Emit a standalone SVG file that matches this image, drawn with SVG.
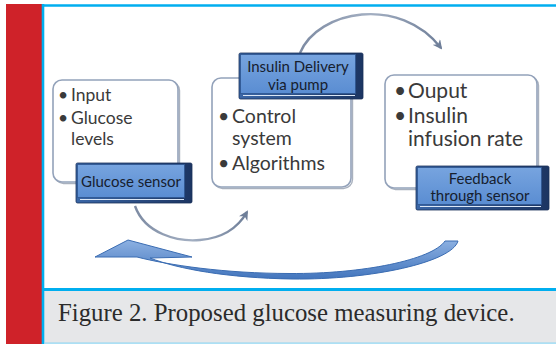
<svg xmlns="http://www.w3.org/2000/svg" width="556" height="344" viewBox="0 0 556 344">
  <defs>
    <linearGradient id="arcGrad" x1="0" y1="0" x2="1" y2="0">
      <stop offset="0" stop-color="#7d8ba3"/>
      <stop offset="0.5" stop-color="#a3afc2"/>
      <stop offset="1" stop-color="#6f7f99"/>
    </linearGradient>
    <linearGradient id="bigArrowGrad" x1="0" y1="0" x2="0" y2="1">
      <stop offset="0" stop-color="#8db1e2"/>
      <stop offset="1" stop-color="#4275bd"/>
    </linearGradient>
    <linearGradient id="faceGrad" x1="0" y1="0" x2="0" y2="1">
      <stop offset="0" stop-color="#77a4df"/>
      <stop offset="1" stop-color="#5a8dd2"/>
    </linearGradient>
    <linearGradient id="edgeGrad" x1="0" y1="0" x2="1" y2="0">
      <stop offset="0" stop-color="#3a66a6"/>
      <stop offset="1" stop-color="#1c3562"/>
    </linearGradient>
    <marker id="arcHead" viewBox="0 0 10 10" refX="8" refY="5" markerWidth="4" markerHeight="4" orient="auto" markerUnits="strokeWidth">
      <path d="M0,0 L10,5 L0,10 L3,5 Z" fill="#6f7f99"/>
    </marker>
  </defs>
  <style>
    .card { fill: #ffffff; stroke: #93a2ba; stroke-width: 1.6; }
    .cardShadow { fill: none; stroke: #6f7d93; stroke-width: 1.4; opacity: 0.6; }
    .bullet { font-family: Lato, "Liberation Sans", sans-serif; fill: #3a3a3a; }
    .tag { font-family: Lato, "Liberation Sans", sans-serif; font-size: 15px; fill: #16202e; text-anchor: middle; }
    .edge { fill: url(#edgeGrad); stroke: #1a3059; stroke-width: 0.8; }
    .face { fill: url(#faceGrad); stroke: #2d5590; stroke-width: 0.8; }
    .glint { stroke: #dbe7f6; stroke-width: 1.2; }
    .arc { fill: none; stroke: url(#arcGrad); stroke-width: 2.4; marker-end: url(#arcHead); }
  </style>

  <!-- page frame -->
  <rect x="0" y="0" width="556" height="344" fill="#ffffff"/>
  <rect x="6" y="4" width="36" height="340" fill="#cf2229"/>
  <rect x="44" y="291" width="512" height="52" fill="#e6e7e9"/>
  <line x1="42" y1="5.5" x2="556" y2="5.5" stroke="#00aeef" stroke-width="2.6"/>
  <line x1="43" y1="4" x2="43" y2="344" stroke="#00aeef" stroke-width="2.6"/>
  <line x1="42" y1="289.5" x2="556" y2="289.5" stroke="#00aeef" stroke-width="3"/>
  <line x1="44" y1="343.2" x2="556" y2="343.2" stroke="#8fd6f2" stroke-width="1.2"/>

  <!-- connectors -->
  <g id="connectors">
    <path class="arc" d="M300,53 C318,10 400,-5 441,48"/>
    <path class="arc" d="M135,206 C145,234 178,242 200,240 C224,238 239,226 247,212"/>
    <path id="return-arrow" d="M458,241 C452,262 372,280 292,279 C228,278 178,269 150,258 L192,257 L128,240 L95,257 L137,257 C168,265 225,273.5 290,273.5 C362,274 432,260 445,241 Z"
          fill="url(#bigArrowGrad)" stroke="#3a6cb2" stroke-width="1" stroke-linejoin="round"/>
  </g>

  <!-- input card -->
  <g id="node-input">
    <rect class="cardShadow" x="54.5" y="81.5" width="125" height="102" rx="9"/>
    <rect class="card" x="53" y="80" width="125" height="102" rx="9"/>
    <text class="bullet" font-size="17.5"><tspan x="58" y="101">•</tspan><tspan x="71" y="101">Input</tspan></text>
    <text class="bullet" font-size="17.5"><tspan x="58" y="124">•</tspan><tspan x="71" y="124">Glucose</tspan></text>
    <text class="bullet" font-size="17.5" x="71" y="145">levels</text>
  </g>
  <g id="node-glucose-sensor">
    <rect class="edge" x="76" y="163" width="116" height="40" rx="1.5"/>
    <rect class="face" x="77.5" y="164.5" width="107" height="33"/>
    <line class="glint" x1="80" y1="199.5" x2="184" y2="199.5"/>
    <text class="tag" x="131" y="187">Glucose sensor</text>
  </g>

  <!-- control card -->
  <g id="node-control">
    <rect class="cardShadow" x="213.5" y="79.5" width="139" height="109" rx="9"/>
    <rect class="card" x="212" y="78" width="139" height="109" rx="9"/>
    <text class="bullet" font-size="19.5"><tspan x="218" y="123">•</tspan><tspan x="232" y="123">Control</tspan></text>
    <text class="bullet" font-size="19.5" x="232" y="145">system</text>
    <text class="bullet" font-size="19.5"><tspan x="218" y="170">•</tspan><tspan x="232" y="170">Algorithms</tspan></text>
  </g>
  <g id="node-insulin-delivery">
    <rect class="edge" x="239" y="53" width="124" height="46" rx="1.5"/>
    <rect class="face" x="240.5" y="54.5" width="115" height="39"/>
    <line class="glint" x1="243" y1="95.5" x2="355" y2="95.5"/>
    <text class="tag" x="298" y="72">Insulin Delivery</text>
    <text class="tag" x="298" y="90">via pump</text>
  </g>

  <!-- output card -->
  <g id="node-output">
    <rect class="cardShadow" x="386.5" y="76.5" width="152" height="113" rx="9"/>
    <rect class="card" x="385" y="75" width="152" height="113" rx="9"/>
    <text class="bullet" font-size="21"><tspan x="394" y="98">•</tspan><tspan x="408" y="98">Ouput</tspan></text>
    <text class="bullet" font-size="21"><tspan x="394" y="123">•</tspan><tspan x="408" y="123">Insulin</tspan></text>
    <text class="bullet" font-size="21" x="408" y="146">infusion rate</text>
  </g>
  <g id="node-feedback">
    <rect class="edge" x="416" y="166" width="133" height="44" rx="1.5"/>
    <rect class="face" x="417.5" y="167.5" width="124" height="37"/>
    <line class="glint" x1="420" y1="206.5" x2="541" y2="206.5"/>
    <text class="tag" x="480" y="184">Feedback</text>
    <text class="tag" x="480" y="201">through sensor</text>
  </g>

  <!-- caption -->
  <text x="58" y="321" font-family="Liberation Serif, serif" font-size="24.8" fill="#2b2b2b">Figure 2. Proposed glucose measuring device.</text>
</svg>
